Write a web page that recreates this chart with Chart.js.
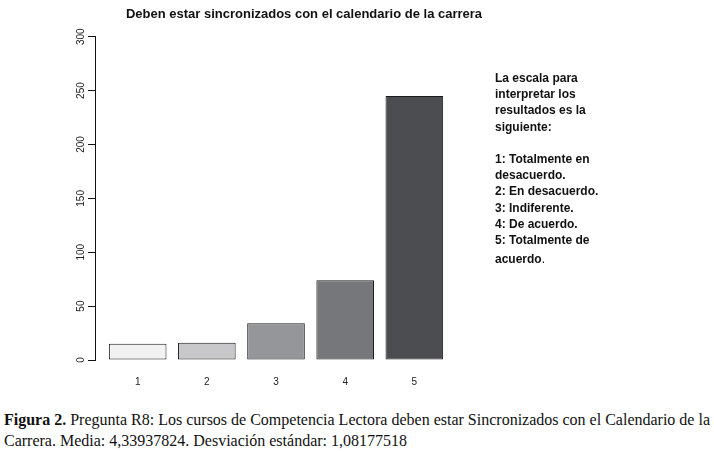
<!DOCTYPE html>
<html>
<head>
<meta charset="utf-8">
<script src="https://cdn.jsdelivr.net/npm/chart.js@4"></script>
<style>
  body { margin: 0; background: #fff; width: 714px; height: 452px; position: relative; overflow: hidden; }
  #wrap { position: absolute; left: 0; top: 0; width: 714px; height: 400px; }
  #title { position: absolute; left: 0; width: 608px; top: 6px; text-align: center;
    font: bold 13px "Liberation Sans", Arial, sans-serif; color: #111; }
  #scale { position: absolute; left: 495px; top: 70px; font: bold 12px "Liberation Sans", Arial, sans-serif;
    color: #111; line-height: 16.2px; }
  #scale .last { margin-top: 3px; }
  #scale .last span { font-weight: normal; }
  #caption { position: absolute; left: 4px; top: 409px; width: 712px;
    font: 16px "Liberation Serif", "Times New Roman", serif; color: #111; line-height: 21px; }
</style>
</head>
<body>
<div id="wrap"><canvas id="chart" width="714" height="400"></canvas></div>
<div id="title">Deben estar sincronizados con el calendario de la carrera</div>
<div id="scale">
  La escala para<br>interpretar los<br>resultados es la<br>siguiente:<br><br>
  1: Totalmente en<br>desacuerdo.<br>2: En desacuerdo.<br>3: Indiferente.<br>4: De acuerdo.<br>5: Totalmente de
  <div class="last">acuerdo<span>.</span></div>
</div>
<div id="caption"><b>Figura 2.</b> Pregunta R8: Los cursos de Competencia Lectora deben estar Sincronizados con el Calendario de la<br>Carrera. Media: 4,33937824. Desviación estándar: 1,08177518</div>
<script>
// respuestas por nivel de la escala
const categories = ["1", "2", "3", "4", "5"];
const counts = [15, 16, 34, 74, 245];
const yTicks = [0, 50, 100, 150, 200, 250, 300];

const barColors = ["#f2f2f2", "#c8c8ca", "#959699", "#76777b", "#4c4d50"];

// y labels are drawn rotated, like R does
const yLabelPlugin = {
  id: "yLabels",
  afterDraw(chart) {
    const ctx = chart.ctx;
    const y = chart.scales.y;
    ctx.save();
    ctx.fillStyle = "#222";
    ctx.font = "10px 'Liberation Sans', Arial, sans-serif";
    ctx.textAlign = "center";
    ctx.textBaseline = "middle";
    y.ticks.forEach((t) => {
      ctx.save();
      ctx.translate(81, y.getPixelForValue(t.value));
      ctx.rotate(-Math.PI / 2);
      ctx.fillText(String(t.value), 0, 0);
      ctx.restore();
    });
    ctx.restore();
  },
};

new Chart(document.getElementById("chart"), {
  type: "bar",
  data: {
    datasets: [
      {
        data: counts.map((v, i) => ({ x: i + 1, y: v })),
        backgroundColor: barColors,
        borderColor: "#1a1a1a",
        borderWidth: 1,
        borderSkipped: false,
        barPercentage: 0.833,
        categoryPercentage: 1,
      },
    ],
  },
  options: {
    responsive: false,
    animation: false,
    layout: { padding: { left: 0, top: 36.7, right: 245.5, bottom: 12 } },
    plugins: { legend: { display: false }, tooltip: { enabled: false } },
    scales: {
      x: {
        type: "linear",
        min: 0.383,
        max: 5.783,
        offset: false,
        grid: { display: false },
        border: { display: false },
        afterBuildTicks(scale) {
          scale.ticks = categories.map((c, i) => ({ value: i + 1 }));
        },
        afterFit(scale) {
          scale.height = 28;
        },
        ticks: {
          padding: 8,
          color: "#222",
          font: { family: "'Liberation Sans', Arial, sans-serif", size: 10 },
          callback: (v) => categories[v - 1],
        },
      },
      y: {
        min: 0,
        max: 300,
        afterBuildTicks(scale) {
          scale.ticks = yTicks.map((v) => ({ value: v }));
        },
        afterFit(scale) {
          scale.width = 95;
        },
        border: { display: true, color: "#111", width: 1 },
        grid: { drawOnChartArea: false, drawTicks: true, tickLength: 7, color: "#111" },
        ticks: { display: false },
      },
    },
  },
  plugins: [yLabelPlugin],
});
</script>
</body>
</html>
